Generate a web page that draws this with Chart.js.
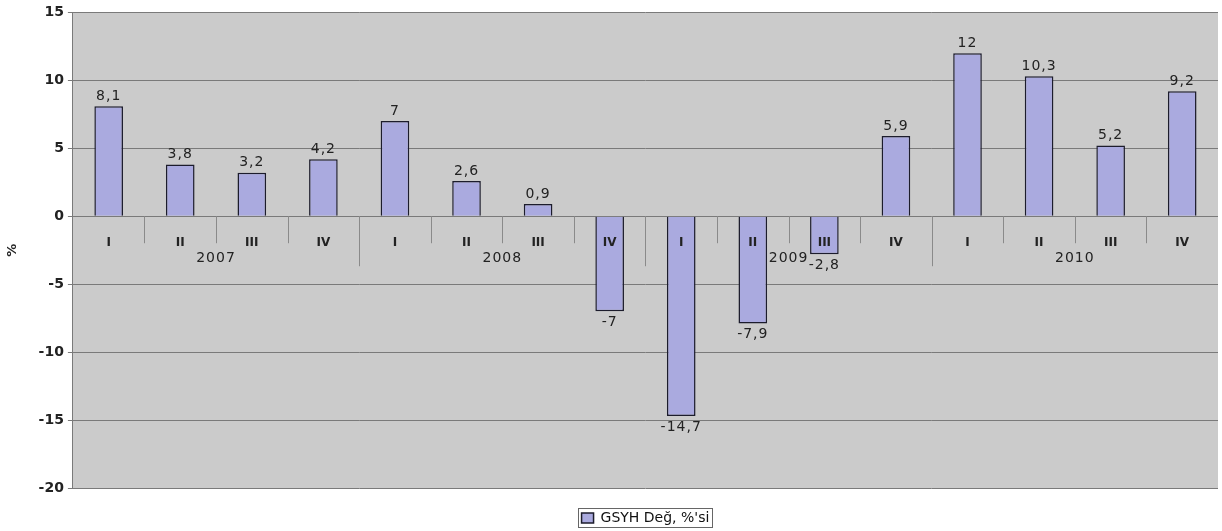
<!DOCTYPE html>
<html>
<head>
<meta charset="utf-8">
<script src="https://cdn.jsdelivr.net/npm/chart.js@4/dist/chart.umd.min.js"></script>
<style>
  html, body { margin: 0; padding: 0; background: #fff; }
  #wrap { width: 1222px; height: 531px; }
</style>
</head>
<body>
<div id="wrap"><canvas id="myChart"></canvas></div>
<script>
// Veriler
const quarters = ['I', 'II', 'III', 'IV', 'I', 'II', 'III', 'IV', 'I', 'II', 'III', 'IV', 'I', 'II', 'III', 'IV'];
const years = ['2007', '2008', '2009', '2010'];
const gsyhValues = [8.1, 3.8, 3.2, 4.2, 7, 2.6, 0.9, -7, -14.7, -7.9, -2.8, 5.9, 12, 10.3, 5.2, 9.2];
const seriesLabel = 'GSYH Değ, %\'si';

const fontFamily = '"DejaVu Sans", Verdana, sans-serif';

// Arka plan
const plotBackground = {
    id: 'plotBackground',
    beforeDraw(chart) {
        const { ctx, chartArea } = chart;
        ctx.save();
        ctx.fillStyle = '#cbcbcb';
        ctx.fillRect(chartArea.left, chartArea.top, chartArea.right - chartArea.left, chartArea.bottom - chartArea.top);
        ctx.restore();
    }
};

// Çeyrek etiketleri, ayraçlar ve yıl etiketleri (çubukların üstüne çizilir)
const yearAxis = {
    id: 'yearAxis',
    afterDatasetsDraw(chart) {
        const { ctx, scales } = chart;
        const x = scales.x, y = scales.y;
        const y0 = y.getPixelForValue(0);
        const half = (x.getPixelForValue(1) - x.getPixelForValue(0)) / 2;
        ctx.save();
        ctx.strokeStyle = '#8a8a8a';
        ctx.lineWidth = 1;
        for (let i = 1; i < quarters.length; i++) {
            const px = Math.round(x.getPixelForValue(i) - half) + 0.5;
            const long = i % 4 === 0;
            ctx.beginPath();
            ctx.moveTo(px, y0);
            ctx.lineTo(px, y0 + (long ? 50 : 27));
            ctx.stroke();
        }
        ctx.fillStyle = '#222';
        ctx.textAlign = 'center';
        ctx.textBaseline = 'middle';
        ctx.font = 'bold 12px ' + fontFamily;
        quarters.forEach((q, i) => {
            ctx.fillText(q, x.getPixelForValue(i), y0 + 27);
        });
        ctx.font = '14px ' + fontFamily;
        ctx.letterSpacing = '1px';
        years.forEach((yr, k) => {
            const cx = (x.getPixelForValue(k * 4) + x.getPixelForValue(k * 4 + 3)) / 2;
            ctx.fillText(yr, cx, y0 + 42);
        });
        ctx.restore();
    }
};

// Değer etiketleri
const valueLabels = {
    id: 'valueLabels',
    afterDatasetsDraw(chart) {
        const { ctx } = chart;
        const meta = chart.getDatasetMeta(0);
        ctx.save();
        ctx.fillStyle = '#222';
        ctx.font = '14px ' + fontFamily;
        ctx.letterSpacing = '1px';
        ctx.textAlign = 'center';
        meta.data.forEach((bar, i) => {
            const v = gsyhValues[i];
            const txt = String(v).replace('.', ',');
            if (v >= 0) {
                ctx.textBaseline = 'bottom';
                ctx.fillText(txt, bar.x, bar.y - 3);
            } else {
                ctx.textBaseline = 'top';
                ctx.fillText(txt, bar.x, bar.y + 4);
            }
        });
        ctx.restore();
    }
};

// Gösterge çerçevesi
const legendBox = {
    id: 'legendBox',
    afterDraw(chart) {
        const boxes = chart.legend && chart.legend.legendHitBoxes;
        if (!boxes || !boxes.length) return;
        const b = boxes[0];
        const { ctx } = chart;
        ctx.save();
        ctx.strokeStyle = '#666';
        ctx.lineWidth = 1;
        ctx.strokeRect(Math.round(b.left) - 3.5, Math.round(b.top) - 2.5, Math.round(b.width) + 6, Math.round(b.height) + 5);
        ctx.restore();
    }
};

const ctx = document.getElementById('myChart').getContext('2d');
const myChart = new Chart(ctx, {
    type: 'bar',
    data: {
        labels: quarters,
        datasets: [{
            label: seriesLabel,
            data: gsyhValues,
            backgroundColor: '#aaaadf',
            borderColor: '#1c1c2c',
            borderWidth: 1.5,
            categoryPercentage: 0.8,
            barPercentage: 0.5
        }]
    },
    options: {
        responsive: true,
        maintainAspectRatio: false,
        animation: false,
        layout: { padding: { top: 10, right: 4, left: 1, bottom: -4 } },
        plugins: {
            legend: {
                position: 'bottom',
                fullSize: false,
                labels: {
                    boxWidth: 12,
                    boxHeight: 10,
                    color: '#111',
                    font: { family: fontFamily, size: 14 },
                    padding: 23
                }
            },
            tooltip: { enabled: false }
        },
        scales: {
            x: {
                position: { y: 0 },
                grid: { display: false },
                border: { display: false },
                ticks: { display: false }
            },
            y: {
                min: -20,
                max: 15,
                ticks: {
                    stepSize: 5,
                    color: '#222',
                    font: { family: fontFamily, size: 14, weight: 'bold' },
                    padding: 4
                },
                grid: {
                    color: '#7a7a7a',
                    tickLength: 5,
                    tickColor: '#7a7a7a'
                },
                border: { color: '#7a7a7a' },
                title: {
                    display: true,
                    text: '%',
                    color: '#222',
                    font: { family: fontFamily, size: 13, weight: 'bold' },
                    padding: { bottom: 14 }
                }
            }
        }
    },
    plugins: [plotBackground, yearAxis, valueLabels, legendBox]
});
</script>
</body>
</html>
